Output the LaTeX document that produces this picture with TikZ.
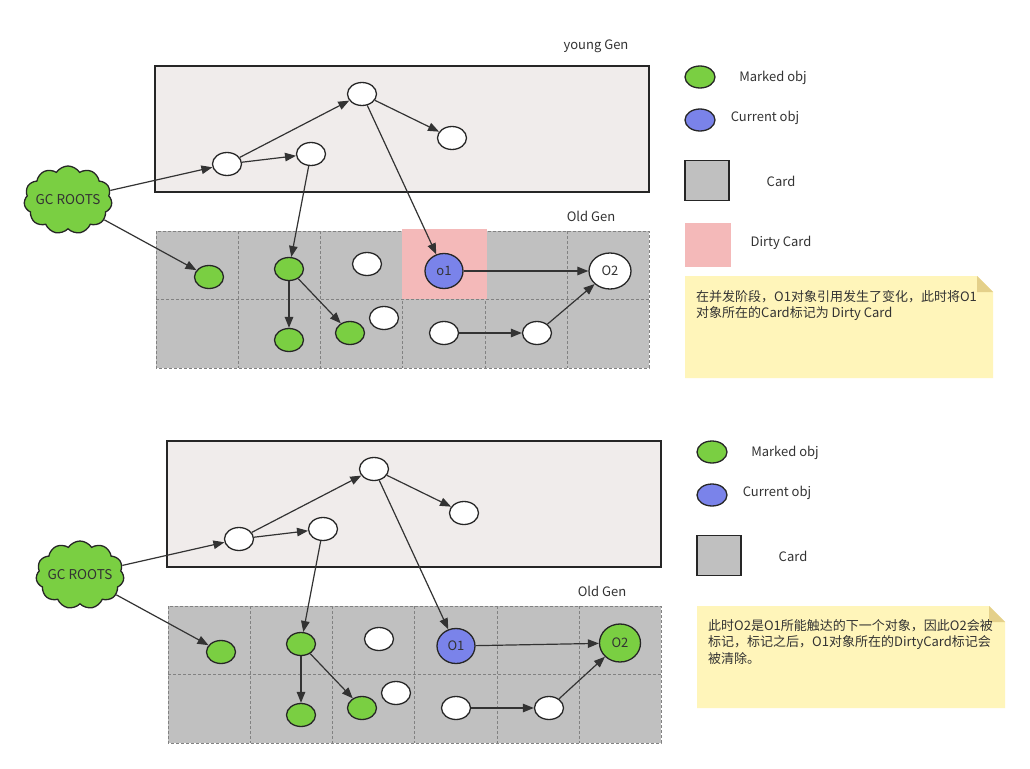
\documentclass[tikz,border=0pt]{standalone}
\usepackage{fontspec}
\setmainfont{Noto Sans CJK SC}
\usetikzlibrary{arrows.meta,shapes.geometric,shapes.symbols}
\definecolor{mkgreen}{RGB}{122,207,66}
\definecolor{curblue}{RGB}{122,131,234}
\definecolor{younggray}{RGB}{240,236,235}
\definecolor{cardgray}{RGB}{192,192,192}
\definecolor{dirtypink}{RGB}{244,185,185}
\definecolor{noteyel}{RGB}{255,245,186}
\definecolor{notefold}{RGB}{228,208,138}
\definecolor{ink}{RGB}{51,51,51}
\definecolor{edgec}{RGB}{38,38,38}
\definecolor{gridc}{RGB}{130,130,130}
\begin{document}
\begin{tikzpicture}[x=1pt,y=-1pt,
 obj/.style={ellipse,draw=edgec,line width=1.3pt,minimum width=29pt,minimum height=23pt,inner sep=0pt,font=\fontsize{13}{13}\selectfont,text=ink},
 whiteobj/.style={obj,fill=white},
 greenobj/.style={obj,fill=mkgreen},
 blueobj/.style={obj,fill=curblue,minimum width=38pt,minimum height=35pt},
 bigwhite/.style={obj,fill=white,minimum width=42pt,minimum height=36pt},
 biggreen/.style={obj,fill=mkgreen,minimum width=41pt,minimum height=38pt},
 legobj/.style={obj,minimum width=30pt,minimum height=22pt},
 link/.style={draw=ink,line width=1.2pt,-{Triangle[length=11pt,width=8.5pt]}},
 lbl/.style={font=\fontsize{13}{13}\selectfont,text=ink,inner sep=0pt},
 notetext/.style={font=\fontsize{13}{16.5}\selectfont,text=ink,inner sep=0pt,align=left,anchor=north west},
 younggen/.style={draw=edgec,line width=1.3pt,fill=younggray},
 gridline/.style={draw=gridc,dash pattern=on 3pt off 2pt,line width=0.8pt},
 cloudbox/.style={cloud,cloud puffs=11,cloud puff arc=115,cloud ignores aspect,draw=edgec,line width=1.3pt,fill=mkgreen,minimum width=88pt,minimum height=68pt,inner xsep=-9pt,inner ysep=0pt,font=\fontsize{13.5}{13.5}\selectfont,text=ink},
 cardsq/.style={draw=edgec,line width=1.5pt,fill=cardgray,minimum width=44pt,minimum height=40pt,inner sep=0pt},
 dirtysq/.style={fill=dirtypink,minimum width=46pt,minimum height=44pt,inner sep=0pt}
]
\useasboundingbox[fill=white] (0,0) rectangle (1030,768);

% ================= TOP DIAGRAM =================
\draw[younggen] (155,66) rectangle (649,192);
\node[lbl] (tyounglbl) at (596,46) {young Gen};
\node[lbl] (toldlbl) at (591,216) {Old Gen};
\fill[cardgray] (156,231) rectangle (649,368);
\foreach \gx in {238,320,402,485,567} \draw[gridline] (\gx,231) -- (\gx,368);
\draw[gridline] (156,299) -- (649,299);
\draw[gridline] (156,231) rectangle (649,368);
\fill[dirtypink] (402,229) rectangle (487,299);

\node[cloudbox] (tgc) at (68,200) {GC ROOTS};
\node[whiteobj] (tA) at (227,164) {};
\node[whiteobj] (tB) at (311,154) {};
\node[whiteobj] (tC) at (362,94) {};
\node[whiteobj] (tD) at (452,138) {};
\node[greenobj] (tG1) at (209,277) {};
\node[greenobj] (tG2) at (289,269) {};
\node[whiteobj] (tW1) at (367,264) {};
\node[blueobj] (tO1) at (444,271) {o1};
\node[bigwhite] (tO2) at (610,271) {O2};
\node[greenobj] (tG3) at (289,340) {};
\node[greenobj] (tG4) at (350,333) {};
\node[whiteobj] (tW2) at (384,318) {};
\node[whiteobj] (tW3) at (444,333) {};
\node[whiteobj] (tW4) at (537,333) {};

\draw[link] (tgc) -- (tA);
\draw[link] (tgc) -- (tG1);
\draw[link] (tA) -- (tB);
\draw[link] (tA) -- (tC);
\draw[link] (tC) -- (tD);
\draw[link] (tC) -- (tO1);
\draw[link] (tB) -- (tG2);
\draw[link] (tG2) -- (tG3);
\draw[link] (tG2) -- (tG4);
\draw[link] (tO1) -- (tO2);
\draw[link] (tW3) -- (tW4);
\draw[link] (tW4) -- (tO2);

% legend top
\node[legobj,fill=mkgreen] (tlegg) at (700,77) {};
\node[lbl] (tleggt) at (773,78) {Marked obj};
\node[legobj,fill=curblue] (tlegb) at (700,120) {};
\node[lbl] (tlegbt) at (765,118) {Current obj};
\node[cardsq] (tlegc) at (707,180.5) {};
\node[lbl] (tlegct) at (781,181) {Card};
\node[dirtysq] (tlegd) at (708,245) {};
\node[lbl] (tlegdt) at (781,243) {Dirty Card};

% note top
\fill[noteyel] (685,276) -- (977,276) -- (993,292) -- (993,378) -- (685,378) -- cycle;
\fill[notefold] (977,276) -- (993,292) -- (977,292) -- cycle;
\node[notetext] (tnote) at (696,290) {在并发阶段，O1对象引用发生了变化，此时将O1\\对象所在的Card标记为 Dirty Card};

% ================= BOTTOM DIAGRAM =================
\begin{scope}[shift={(12,375)}]
\draw[younggen] (155,66) rectangle (649,192);
\node[lbl] (boldlbl) at (590,216) {Old Gen};
\fill[cardgray] (156,231) rectangle (649,368);
\foreach \gx in {238,320,402,485,567} \draw[gridline] (\gx,231) -- (\gx,368);
\draw[gridline] (156,299) -- (649,299);
\draw[gridline] (156,231) rectangle (649,368);

\node[cloudbox] (bgc) at (68,200) {GC ROOTS};
\node[whiteobj] (bA) at (227,164) {};
\node[whiteobj] (bB) at (311,154) {};
\node[whiteobj] (bC) at (362,94) {};
\node[whiteobj] (bD) at (452,138) {};
\node[greenobj] (bG1) at (209,277) {};
\node[greenobj] (bG2) at (289,269) {};
\node[whiteobj] (bW1) at (367,264) {};
\node[blueobj] (bO1) at (444,271) {O1};
\node[biggreen] (bO2) at (608,268) {O2};
\node[greenobj] (bG3) at (289,340) {};
\node[greenobj] (bG4) at (350,333) {};
\node[whiteobj] (bW2) at (384,318) {};
\node[whiteobj] (bW3) at (444,333) {};
\node[whiteobj] (bW4) at (537,333) {};

\draw[link] (bgc) -- (bA);
\draw[link] (bgc) -- (bG1);
\draw[link] (bA) -- (bB);
\draw[link] (bA) -- (bC);
\draw[link] (bC) -- (bD);
\draw[link] (bC) -- (bO1);
\draw[link] (bB) -- (bG2);
\draw[link] (bG2) -- (bG3);
\draw[link] (bG2) -- (bG4);
\draw[link] (bO1) -- (bO2);
\draw[link] (bW3) -- (bW4);
\draw[link] (bW4) -- (bO2);
\end{scope}

% legend bottom
\node[legobj,fill=mkgreen] (blegg) at (712,452) {};
\node[lbl] (bleggt) at (785,453) {Marked obj};
\node[legobj,fill=curblue] (blegb) at (712,495) {};
\node[lbl] (blegbt) at (777,493) {Current obj};
\node[cardsq] (blegc) at (719,555.5) {};
\node[lbl] (blegct) at (793,556) {Card};

% note bottom
\fill[noteyel] (697,606) -- (989,606) -- (1005,622) -- (1005,708) -- (697,708) -- cycle;
\fill[notefold] (989,606) -- (1005,622) -- (989,622) -- cycle;
\node[notetext] (bnote) at (708,619) {此时O2是O1所能触达的下一个对象，因此O2会被\\标记，标记之后，O1对象所在的DirtyCard标记会\\被清除。};
\end{tikzpicture}
\end{document}
